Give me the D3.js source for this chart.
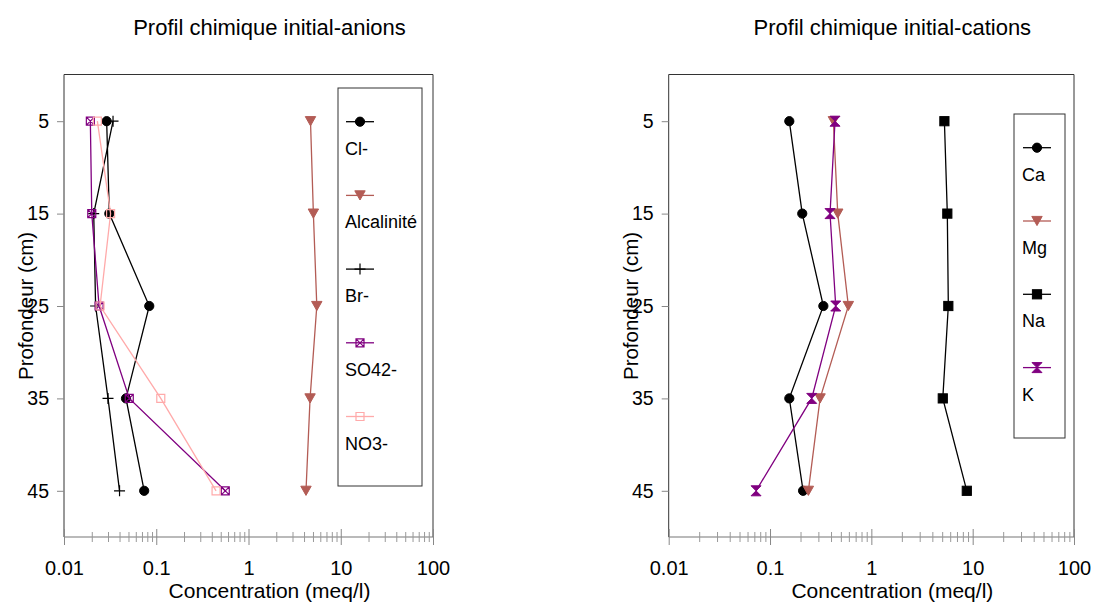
<!DOCTYPE html>
<html><head><meta charset="utf-8">
<script src="https://cdn.jsdelivr.net/npm/d3@7/dist/d3.min.js"></script>
<style>body{margin:0;background:#fff}svg{display:block;font-family:"Liberation Sans",Arial,sans-serif}</style>
</head><body><svg id="c" width="1094" height="604"></svg>
<script>
const depths = [5, 15, 25, 35, 45];
const xTickLabels = ["0.01", "0.1", "1", "10", "100"];
const anionNames = ["Cl-", "Alcalinité", "Br-", "SO42-", "NO3-"];
const cl   = [0.029, 0.031, 0.084, 0.047, 0.074];
const alc  = [4.7, 5.05, 5.5, 4.65, 4.2];
const br   = [0.034, 0.021, 0.022, 0.030, 0.040];
const so4  = [0.0193, 0.020, 0.024, 0.051, 0.56];
const no3  = [0.023, 0.032, 0.0246, 0.112, 0.445];
const cationNames = ["Ca", "Mg", "Na", "K"];
const ca = [0.155, 0.208, 0.336, 0.155, 0.212];
const mg = [0.422, 0.466, 0.593, 0.312, 0.239];
const na = [5.26, 5.62, 5.75, 5.07, 8.75];
const k  = [0.438, 0.391, 0.445, 0.258, 0.0728];

const BROWN = "#b35c55", PURPLE = "#800080", PINK = "#ffaaaa";
const shapes = {
  circle: g => g.append("circle").attr("r", 4.6),
  tri: g => g.append("path").attr("d", "M-5.2,-4.6L5.2,-4.6L0,4.6Z"),
  plus: g => g.append("path").attr("d", "M-5.5,0H5.5M0,-5.5V5.5").attr("fill", "none").attr("stroke-width", 1.2),
  sqx: g => g.append("path").attr("d", "M-4,-4H4V4H-4ZM-4,-4L4,4M4,-4L-4,4").attr("fill", "none").attr("stroke-width", 1.2),
  sq: g => g.append("path").attr("d", "M-4,-4H4V4H-4Z").attr("fill", "none").attr("stroke-width", 1.2),
  fsq: g => g.append("rect").attr("x", -4.6).attr("y", -4.6).attr("width", 9.2).attr("height", 9.2),
  hour: g => g.append("path").attr("d", "M-5,-5H5L0,0L5,5H-5L0,0Z")
};

const panels = [
  { title: "Profil chimique initial-anions", x0: 64, x1: 433,
    series: [[cl, "#000", "circle"], [alc, BROWN, "tri"], [br, "#000", "plus"], [so4, PURPLE, "sqx"], [no3, PINK, "sq"]],
    names: anionNames, legend: { x: 338, y: 88, w: 84, h: 398, first: 121.7, step: 73.7, lx: 346 } },
  { title: "Profil chimique initial-cations", x0: 668.7, x1: 1074,
    series: [[ca, "#000", "circle"], [mg, BROWN, "tri"], [na, "#000", "fsq"], [k, PURPLE, "hour"]],
    names: cationNames, legend: { x: 1014, y: 114, w: 51, h: 324, first: 147.7, step: 73.3, lx: 1023 } }
];

const svg = d3.select("#c");
const y = d3.scaleLinear().domain([0, 50]).range([75, 537]);

panels.forEach(p => {
  const x = d3.scaleLog().domain([0.01, 100]).range([p.x0, p.x1]);
  const g = svg.append("g");
  const cx = (p.x0 + p.x1) / 2 + 21;
  g.append("text").attr("x", cx).attr("y", 35).attr("text-anchor", "middle")
    .attr("font-size", 22).text(p.title);
  g.append("path").attr("d", `M${p.x0},${y(50)}V${y(0) - 0.5}H${p.x1}V${y(50)}`)
    .attr("fill", "none").attr("stroke", "#333").attr("stroke-width", 1);
  const ya = g.append("g").attr("transform", `translate(${p.x0},0)`)
    .call(d3.axisLeft(y).tickValues(depths).tickSize(7).tickPadding(8).tickFormat(d3.format("d")));
  ya.select(".domain").remove();
  ya.selectAll("line").attr("stroke", "#888");
  ya.selectAll("text").attr("font-size", 19.5).attr("fill", "#000").attr("font-family", "Liberation Sans, Arial, sans-serif");
  const ax = y(50);
  g.append("line").attr("x1", p.x0).attr("x2", p.x1).attr("y1", ax).attr("y2", ax).attr("stroke", "#777").attr("stroke-width", 1.2);
  const majors = [0.01, 0.1, 1, 10, 100];
  const minors = [];
  [0.01, 0.1, 1, 10].forEach(d => { for (let m = 2; m <= 9; m++) minors.push(d * m); });
  const xa = g.append("g").attr("transform", `translate(0,${ax - 8})`)
    .call(d3.axisBottom(x).tickValues(majors).tickSize(16).tickPadding(0).tickFormat((d, i) => xTickLabels[i]));
  xa.select(".domain").remove();
  xa.selectAll("line").attr("stroke", "#888");
  xa.selectAll("text").attr("font-size", 20).attr("fill", "#000").attr("dy", null).attr("y", 45.5)
    .attr("font-family", "Liberation Sans, Arial, sans-serif");
  const xm = g.append("g").attr("transform", `translate(0,${ax - 5})`)
    .call(d3.axisBottom(x).tickValues(minors).tickSize(10).tickFormat(""));
  xm.select(".domain").remove();
  xm.selectAll("line").attr("stroke", "#999");
  g.append("text").attr("x", cx).attr("y", 598).attr("text-anchor", "middle").attr("font-size", 21).text("Concentration (meq/l)");
  g.append("text").attr("transform", `translate(${p.x0 - 31},${y(25)}) rotate(-90)`).attr("text-anchor", "middle")
    .attr("font-size", 20.5).text("Profondeur (cm)");
  const line = d3.line().x(d => x(d[0])).y(d => y(d[1]));
  p.series.forEach(([vals, col, shp]) => {
    const pts = vals.map((v, i) => [v, depths[i]]);
    g.append("path").datum(pts).attr("d", line).attr("fill", "none").attr("stroke", col).attr("stroke-width", 1.3);
    pts.forEach(pt => {
      const m = g.append("g").attr("transform", `translate(${x(pt[0])},${y(pt[1])})`).attr("fill", col).attr("stroke", col);
      shapes[shp](m);
    });
  });
  const L = p.legend;
  const lg = g.append("g");
  lg.append("rect").attr("x", L.x).attr("y", L.y).attr("width", L.w).attr("height", L.h)
    .attr("fill", "#fff").attr("stroke", "#333").attr("stroke-width", 1);
  p.series.forEach(([vals, col, shp], i) => {
    const ly = L.first + i * L.step;
    lg.append("line").attr("x1", L.lx).attr("x2", L.lx + 28).attr("y1", ly).attr("y2", ly).attr("stroke", col).attr("stroke-width", 1.3);
    const m = lg.append("g").attr("transform", `translate(${L.lx + 14},${ly})`).attr("fill", col).attr("stroke", col);
    shapes[shp](m);
    lg.append("text").attr("x", L.lx - 1).attr("y", ly + 33).attr("font-size", 18).text(p.names[i]);
  });
});
</script></body></html>
